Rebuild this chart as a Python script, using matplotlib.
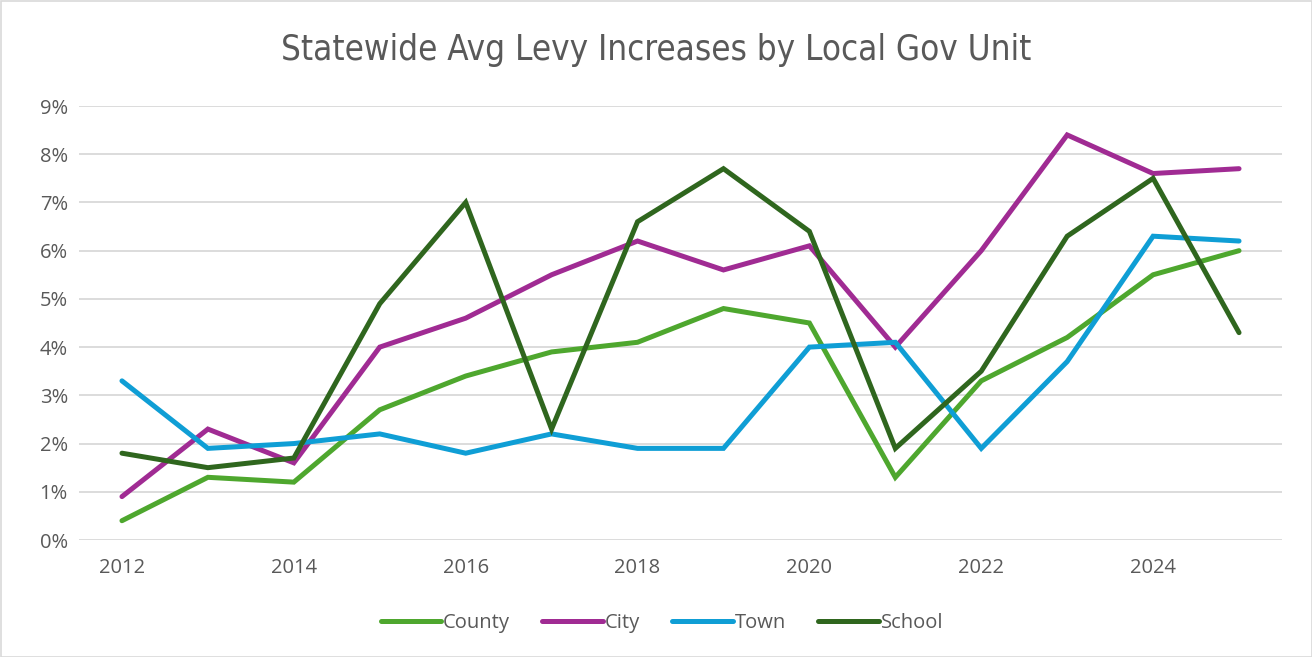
import matplotlib
matplotlib.use("Agg")
import matplotlib.pyplot as plt
from matplotlib.patches import Rectangle
from matplotlib.ticker import PercentFormatter

years = list(range(2012, 2026))
county = [0.4, 1.3, 1.2, 2.7, 3.4, 3.9, 4.1, 4.8, 4.5, 1.3, 3.3, 4.2, 5.5, 6.0]
city = [0.9, 2.3, 1.6, 4.0, 4.6, 5.5, 6.2, 5.6, 6.1, 4.0, 6.0, 8.4, 7.6, 7.7]
town = [3.3, 1.9, 2.0, 2.2, 1.8, 2.2, 1.9, 1.9, 4.0, 4.1, 1.9, 3.7, 6.3, 6.2]
school = [1.8, 1.5, 1.7, 4.9, 7.0, 2.3, 6.6, 7.7, 6.4, 1.9, 3.5, 6.3, 7.5, 4.3]

series = [("County", county, "#4EA72E"),
          ("City", city, "#A02B93"),
          ("Town", town, "#0F9ED5"),
          ("School", school, "#2F661E")]

fam = ["Open Sans", "DejaVu Sans"]
txt = "#595959"

fig = plt.figure(figsize=(13.12, 6.57), dpi=100)
ax = fig.add_axes([79/1312, 1-540/657, (1282-79)/1312, (540-106)/657])

for name, vals, col in series:
    ax.plot(years, vals, color=col, lw=3.6, label=name, solid_capstyle="round",
            solid_joinstyle="miter")

ax.set_xlim(2011.5, 2025.5)
ax.set_ylim(0, 9)
ax.set_yticks(range(0, 10))
ax.yaxis.set_major_formatter(PercentFormatter(decimals=0))
ax.set_xticks(range(2012, 2026, 2))
ax.grid(axis="y", color="#D9D9D9", lw=1.3)
ax.set_axisbelow(True)
for s in ax.spines.values():
    s.set_visible(False)
ax.tick_params(length=0, labelsize=14.5, labelcolor=txt, pad=8)
ax.tick_params(axis="x", pad=13)
for lab in ax.get_xticklabels() + ax.get_yticklabels():
    lab.set_family(fam)

fig.text(0.5, 1-50/657, "Statewide Avg Levy Increases by Local Gov Unit",
         ha="center", va="center", fontsize=25, color=txt,
         family=["DejaVu Sans"], fontstretch="condensed")

leg = fig.legend(loc="center", bbox_to_anchor=(662/1312, 1-623/657), ncol=4,
                 frameon=False, prop={"family": fam, "size": 14.5},
                 handlelength=3.0, handletextpad=0.1, columnspacing=1.6)
for t in leg.get_texts():
    t.set_color(txt)

fig.patches.append(Rectangle((0.5/1312, 0.5/657), 1-1/1312, 1-1/657, transform=fig.transFigure,
                             fill=False, edgecolor="#D9D9D9", lw=1.2))

fig.savefig("out.png", dpi=100)
